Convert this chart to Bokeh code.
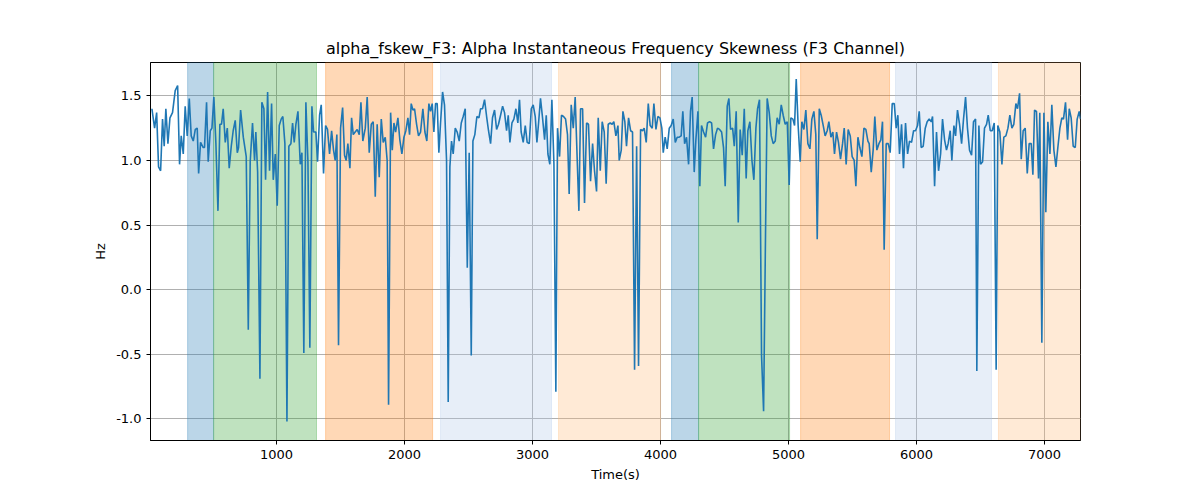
from bokeh.plotting import figure
from bokeh.models import BoxAnnotation, Range1d, FixedTicker, NumeralTickFormatter
from bokeh.embed import file_html
from bokeh.resources import INLINE

# time (s) and alpha fskew values
time_s = [26, 47, 63, 78, 94, 109, 122, 135, 151, 167, 187, 208, 227, 242, 255, 271, 286, 302, 318, 333,
          349, 365, 380, 391, 406, 427, 437, 453, 466, 482, 495, 510, 526, 542, 557, 570, 583, 599, 615, 630,
          646, 661, 677, 693, 703, 719, 740, 763, 779, 794, 812, 828, 838, 852, 870, 885, 901, 914, 930, 945,
          961, 974, 990, 1005, 1021, 1036, 1049, 1065, 1081, 1096, 1112, 1125, 1138, 1151, 1167, 1185, 1198, 1213, 1229, 1245,
          1260, 1276, 1289, 1307, 1320, 1336, 1349, 1367, 1383, 1398, 1414, 1430, 1445, 1458, 1471, 1484, 1500, 1516, 1531, 1544,
          1557, 1573, 1586, 1599, 1614, 1630, 1646, 1659, 1674, 1693, 1708, 1724, 1740, 1755, 1771, 1786, 1802, 1818, 1833, 1849,
          1864, 1875, 1891, 1904, 1917, 1930, 1948, 1963, 1979, 1995, 2010, 2026, 2039, 2052, 2065, 2078, 2094, 2109, 2125, 2143,
          2159, 2174, 2190, 2203, 2216, 2229, 2242, 2255, 2268, 2281, 2297, 2312, 2328, 2341, 2354, 2367, 2380, 2396, 2411, 2427,
          2443, 2458, 2474, 2490, 2505, 2521, 2534, 2549, 2565, 2581, 2594, 2609, 2625, 2641, 2656, 2672, 2687, 2703, 2719, 2734,
          2750, 2766, 2781, 2797, 2810, 2823, 2839, 2854, 2870, 2885, 2898, 2911, 2927, 2943, 2958, 2974, 2990, 3005, 3021, 3034,
          3047, 3062, 3078, 3094, 3107, 3120, 3135, 3151, 3167, 3182, 3195, 3211, 3226, 3242, 3258, 3273, 3286, 3302, 3318, 3333,
          3349, 3362, 3375, 3391, 3406, 3422, 3437, 3453, 3469, 3484, 3500, 3513, 3529, 3544, 3560, 3575, 3591, 3607, 3622, 3635,
          3651, 3667, 3677, 3693, 3706, 3721, 3734, 3750, 3766, 3781, 3797, 3813, 3828, 3844, 3859, 3872, 3888, 3904, 3919, 3935,
          3948, 3964, 3979, 3995, 4010, 4021, 4036, 4052, 4068, 4083, 4099, 4115, 4130, 4146, 4161, 4174, 4188, 4203, 4219, 4234,
          4247, 4263, 4276, 4292, 4307, 4320, 4336, 4352, 4367, 4383, 4399, 4414, 4430, 4445, 4461, 4477, 4492, 4505, 4521, 4534,
          4547, 4563, 4576, 4591, 4607, 4622, 4638, 4654, 4669, 4682, 4698, 4714, 4729, 4745, 4758, 4773, 4789, 4805, 4820, 4833,
          4849, 4865, 4880, 4896, 4911, 4927, 4943, 4958, 4974, 4990, 5005, 5018, 5034, 5047, 5060, 5075, 5091, 5104, 5120, 5135,
          5151, 5167, 5182, 5198, 5213, 5224, 5240, 5255, 5271, 5286, 5302, 5315, 5331, 5346, 5359, 5375, 5390, 5406, 5422, 5435,
          5450, 5466, 5482, 5497, 5513, 5526, 5542, 5557, 5573, 5589, 5604, 5620, 5630, 5646, 5661, 5674, 5690, 5706, 5721, 5734,
          5747, 5763, 5779, 5794, 5810, 5826, 5841, 5854, 5867, 5883, 5898, 5914, 5930, 5945, 5961, 5977, 5992, 6008, 6021, 6036,
          6052, 6068, 6083, 6099, 6115, 6125, 6141, 6156, 6172, 6188, 6203, 6219, 6234, 6247, 6263, 6276, 6292, 6305, 6320, 6336,
          6352, 6367, 6383, 6398, 6414, 6430, 6445, 6461, 6471, 6487, 6500, 6516, 6531, 6547, 6560, 6576, 6591, 6607, 6622, 6635,
          6651, 6667, 6682, 6698, 6714, 6729, 6745, 6760, 6776, 6789, 6805, 6818, 6833, 6849, 6865, 6880, 6896, 6909, 6922, 6937,
          6953, 6963, 6979, 6995, 7010, 7026, 7042, 7057, 7073, 7089, 7104, 7120, 7135, 7148, 7164, 7180, 7193, 7208, 7224, 7240,
          7255, 7271, 7281]
fskew = [1.40, 1.25, 1.37, 0.95, 0.92, 1.32, 1.11, 1.40, 1.13, 1.33, 1.37, 1.54, 1.58, 0.97, 1.19, 1.05, 1.42, 1.19, 1.48, 1.19,
         1.15, 1.24, 1.25, 0.90, 1.14, 1.10, 1.10, 1.45, 0.99, 1.23, 1.25, 1.49, 1.13, 0.61, 1.28, 1.28, 1.40, 1.14, 1.25, 0.94,
         1.11, 1.23, 1.31, 1.06, 1.10, 1.39, 1.18, 1.03, -0.31, 0.99, 1.29, 1.00, 1.22, 0.91, -0.69, 1.45, 1.40, 0.85, 1.53, 0.92,
         1.44, 0.85, 1.05, 0.65, 1.27, 1.32, 1.34, 1.13, -1.02, 1.11, 1.13, 1.29, 1.14, 1.28, 1.38, 0.97, 1.06, -0.49, 1.45, 0.99,
         -0.45, 1.42, 1.22, 1.22, 0.99, 1.35, 1.43, 0.90, 1.27, 1.24, 1.05, 1.23, 1.08, 1.00, 1.20, -0.43, 1.25, 1.41, 1.04, 1.00,
         1.13, 0.94, 1.33, 1.20, 1.22, 1.24, 1.20, 1.45, 1.15, 1.25, 1.49, 1.06, 1.28, 1.30, 0.72, 1.28, 0.87, 1.32, 1.14, 1.18,
         1.00, -0.89, 1.37, 1.08, 1.29, 1.22, 1.33, 1.16, 1.05, 1.18, 1.23, 1.33, 1.20, 1.44, 1.39, 1.40, 1.28, 1.19, 1.22, 1.40,
         1.22, 1.15, 1.44, 1.38, 1.44, 1.22, 1.44, 1.44, 1.06, 1.29, 1.53, 1.43, 1.00, -0.87, 0.95, 1.15, 1.05, 1.25, 1.22, 1.15,
         1.29, 1.34, 1.40, 0.17, 1.06, -0.51, 1.15, 1.20, 1.34, 1.33, 1.40, 1.40, 1.47, 1.34, 1.23, 1.13, 1.33, 1.39, 1.24, 1.28,
         1.35, 1.42, 1.37, 1.23, 1.35, 1.14, 1.29, 1.32, 1.40, 1.29, 1.47, 1.22, 1.14, 1.27, 1.14, 1.13, 1.40, 1.43, 1.34, 1.14,
         1.29, 1.48, 1.33, 1.16, 1.35, 1.05, 0.97, 1.47, 0.97, -0.79, 1.25, 1.03, 1.35, 1.34, 1.32, 1.20, 0.74, 1.43, 1.25, 1.49,
         1.00, 0.61, 1.40, 1.40, 0.67, 1.29, 1.28, 0.84, 1.13, 0.92, 0.76, 1.33, 0.92, 1.30, 1.22, 0.82, 1.28, 1.29, 1.28, 1.30,
         1.19, 1.27, 1.00, 1.08, 1.38, 1.30, 1.11, 1.33, 1.23, 1.22, -0.62, 1.11, -0.59, 1.24, 1.23, 1.25, 1.14, 1.44, 1.27, 1.25,
         1.44, 1.24, 1.34, 1.33, 1.25, 1.06, 1.18, 1.09, 1.25, 1.27, 1.32, 1.14, 1.18, 1.18, 1.19, 1.38, 1.13, 1.18, 0.97, 1.38,
         1.49, 0.91, 1.16, 1.38, 0.80, 1.27, 1.22, 1.18, 1.29, 1.30, 1.29, 1.09, 1.20, 1.25, 1.24, 1.22, 1.10, 0.80, 1.42, 1.48,
         1.24, 1.25, 1.11, 1.38, 0.52, 1.24, 1.04, 1.40, 0.86, 1.23, 1.30, 1.00, 0.85, 1.25, 1.40, 1.47, -0.51, -0.94, 0.42, 1.48,
         1.37, 1.19, 1.13, 1.15, 1.33, 1.28, 1.43, 1.35, 1.28, 1.30, 0.81, 1.33, 1.32, 1.27, 1.63, 1.27, 0.99, 1.30, 1.24, 1.39,
         1.13, 1.09, 1.32, 1.38, 1.20, 0.39, 1.40, 1.35, 1.27, 1.19, 1.23, 1.30, 1.18, 1.22, 1.05, 1.22, 1.14, 1.01, 1.13, 1.25,
         0.97, 1.24, 1.19, 1.03, 1.00, 0.80, 1.18, 1.10, 1.03, 1.25, 1.24, 1.15, 1.13, 0.91, 1.08, 1.34, 1.08, 1.13, 1.16, 1.30,
         0.31, 1.13, 1.13, 1.06, 1.44, 1.44, 1.25, 1.35, 1.05, 1.28, 0.94, 1.29, 1.05, 1.15, 1.14, 1.23, 1.23, 1.27, 1.38, 1.10,
         1.11, 1.25, 1.30, 1.32, 1.30, 1.34, 0.80, 1.22, 0.92, 1.05, 1.32, 1.16, 1.08, 1.13, 1.23, 1.00, 1.27, 1.19, 1.39, 1.28,
         1.13, 1.32, 1.49, 1.25, 1.08, 1.04, 1.30, 1.32, -0.63, 1.27, 0.97, 0.99, 1.25, 1.28, 1.35, 1.23, 1.23, 1.29, -0.62, 1.27,
         1.22, 0.97, 1.18, 1.19, 1.25, 1.35, 1.25, 1.28, 1.44, 1.40, 1.52, 1.01, 1.23, 1.25, 0.90, 1.13, 1.13, 0.89, 1.39, 1.38,
         0.86, 1.37, -0.41, 1.37, 0.60, 1.30, 1.05, 1.43, 1.08, 0.95, 1.10, 1.25, 1.33, 1.32, 1.45, 1.16, 1.40, 1.33, 1.11, 1.10,
         1.32, 1.38, 1.32]

# shaded phases
band_start = [305, 508, 1383, 2281, 3203, 4086, 4297, 5094, 5836, 6640]
band_end = [508, 1312, 2219, 3148, 4000, 4297, 5008, 5789, 6586, 7290]
band_color = ["#1f77b4", "#2ca02c", "#ff7f0e", "#aec7e8", "#ffbb78",
              "#1f77b4", "#2ca02c", "#ff7f0e", "#aec7e8", "#ffbb78"]

FONT = "DejaVu Sans"

p = figure(width=1184, height=484, output_backend="svg", toolbar_location=None,
           title="alpha_fskew_F3: Alpha Instantaneous Frequency Skewness (F3 Channel)",
           x_axis_label="Time(s)", y_axis_label="Hz",
           min_border_left=150, min_border_right=104, min_border_top=62, min_border_bottom=34)
p.x_range = Range1d(15, 7281)
p.y_range = Range1d(-1.167, 1.758)

for s, e, c in zip(band_start, band_end, band_color):
    p.add_layout(BoxAnnotation(left=s, right=e, fill_color=c, fill_alpha=0.3,
                               line_color=c, line_alpha=0.3, level="underlay"))

p.line(time_s, fskew, line_color="#1f77b4", line_width=1.6)

p.title.text_font = FONT
p.title.text_font_size = "16px"
p.title.text_font_style = "normal"
p.title.text_color = "black"
p.title.align = "center"
p.outline_line_color = "black"
p.background_fill_color = "white"

p.xaxis.ticker = FixedTicker(ticks=[1000, 2000, 3000, 4000, 5000, 6000, 7000])
p.yaxis.ticker = FixedTicker(ticks=[-1.0, -0.5, 0.0, 0.5, 1.0, 1.5])
p.yaxis.formatter = NumeralTickFormatter(format="0.0")
for ax in (p.xaxis, p.yaxis):
    ax.axis_label_text_font = FONT
    ax.axis_label_text_font_size = "13px"
    ax.axis_label_text_font_style = "normal"
    ax.axis_label_text_color = "black"
    ax.major_label_text_font = FONT
    ax.major_label_text_font_size = "13px"
    ax.major_label_text_color = "black"
    ax.minor_tick_line_color = None
    ax.major_tick_out = 4
    ax.major_tick_in = 0
    ax.axis_line_color = "black"

p.grid.grid_line_color = "#b0b0b0"
p.grid.grid_line_width = 1

open("out.html", "w").write(file_html(p, INLINE))
